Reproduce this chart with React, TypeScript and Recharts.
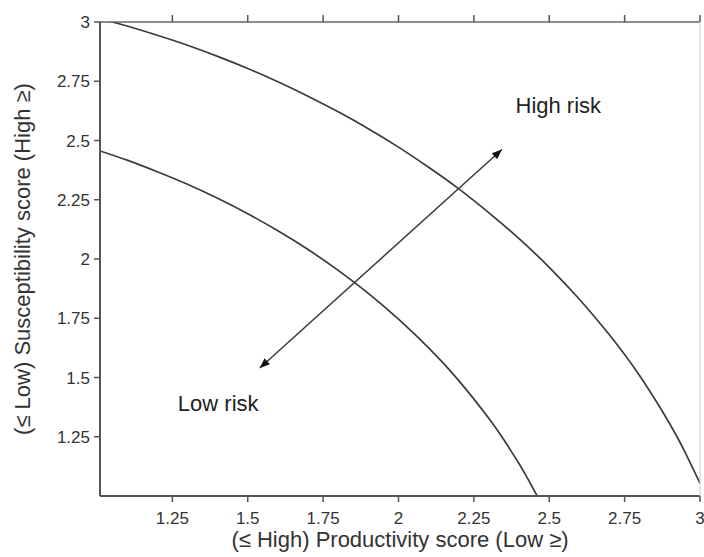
import React from 'react';
import {
  ComposedChart,
  Line,
  XAxis,
  YAxis,
  ReferenceLine,
  ReferenceDot,
  Label,
} from 'recharts';

// Values
const axisTicks = [1.25, 1.5, 1.75, 2, 2.25, 2.5, 2.75, 3];

const outerX = [1.04, 1.1, 1.2, 1.3, 1.4, 1.5, 1.6, 1.7, 1.8, 1.9, 2.0, 2.1, 2.2, 2.3, 2.4, 2.5, 2.6, 2.7, 2.8, 2.9, 2.95, 3.0];
const outerY = [3.004, 2.983, 2.944, 2.902, 2.855, 2.804, 2.748, 2.687, 2.621, 2.55, 2.472, 2.387, 2.296, 2.195, 2.086, 1.965, 1.83, 1.679, 1.507, 1.304, 1.186, 1.054];

const innerX = [1.01, 1.1, 1.2, 1.3, 1.4, 1.5, 1.6, 1.7, 1.8, 1.9, 2.0, 2.1, 2.2, 2.3, 2.35, 2.4, 2.43, 2.46];
const innerY = [2.456, 2.417, 2.368, 2.315, 2.256, 2.191, 2.119, 2.04, 1.952, 1.855, 1.746, 1.625, 1.487, 1.327, 1.236, 1.136, 1.07, 1.0];

// double-headed arrow (low risk -> high risk)
const arrowLow = { x: 1.54, y: 1.54 };
const arrowHigh = { x: 2.343, y: 2.462 };

const riskLabels = [
  { text: 'High risk', x: 2.53, y: 2.65 },
  { text: 'Low risk', x: 1.402, y: 1.39 },
];

const outerData = outerX.map((x, i) => ({ x, y: outerY[i] }));
const innerData = innerX.map((x, i) => ({ x, y: innerY[i] }));

const FONT = '"Liberation Sans", Arial, sans-serif';
const INK = '#3b3b3b';
const TEXT = '#333';
const AXIS = '#555';

const BottomTick = (props: any) => {
  const { x, y, payload } = props;
  return (
    <g>
      <line x1={x} y1={y} x2={x} y2={y + 6} stroke={AXIS} strokeWidth={1.5} />
      <text x={x} y={y + 16} dy="0.71em" textAnchor="middle" fontSize={17} fill={TEXT} fontFamily={FONT}>
        {payload.value}
      </text>
    </g>
  );
};

const LeftTick = (props: any) => {
  const { x, y, payload } = props;
  return (
    <g>
      <line x1={x - 6} y1={y} x2={x} y2={y} stroke={AXIS} strokeWidth={1.5} />
      <text x={x - 10} y={y} dy="0.36em" textAnchor="end" fontSize={17} fill={TEXT} fontFamily={FONT}>
        {payload.value}
      </text>
    </g>
  );
};

const TopTick = (props: any) => {
  const { x, y } = props;
  return <line x1={x} y1={y - 7} x2={x} y2={y} stroke={AXIS} strokeWidth={1.5} />;
};

const arrowHead = (tipX: number, tipY: number, fromX: number, fromY: number) => {
  const len = 10;
  const half = 4;
  const dx = tipX - fromX;
  const dy = tipY - fromY;
  const d = Math.sqrt(dx * dx + dy * dy) || 1;
  const ux = dx / d;
  const uy = dy / d;
  const bx = tipX - ux * len;
  const by = tipY - uy * len;
  return `${tipX},${tipY} ${bx - uy * half},${by + ux * half} ${bx + uy * half},${by - ux * half}`;
};

const ArrowShape = (props: any) => {
  const { x1, y1, x2, y2 } = props;
  return (
    <g>
      <line x1={x1} y1={y1} x2={x2} y2={y2} stroke={INK} strokeWidth={1.5} />
      <polygon points={arrowHead(x1, y1, x2, y2)} fill="#111" />
      <polygon points={arrowHead(x2, y2, x1, y1)} fill="#111" />
    </g>
  );
};

export default function App() {
  return (
    <div style={{ position: 'absolute', left: 0, top: 0, background: '#fff' }}>
      <ComposedChart
        width={704}
        height={557}
        margin={{ top: 21, right: 3, bottom: 0, left: 0 }}
        style={{ fontFamily: FONT }}
      >
        <XAxis
          dataKey="x"
          type="number"
          domain={[1.01, 3]}
          allowDataOverflow
          ticks={axisTicks}
          height={61}
          stroke={AXIS}
          tickSize={0}
          tickMargin={0}
          tick={<BottomTick />}
          axisLine={{ strokeWidth: 2 }}
        >
          <Label
            value="(≤ High) Productivity score (Low ≥)"
            position="insideBottom"
            offset={10}
            style={{ fontSize: 22, fill: TEXT, fontFamily: FONT }}
          />
        </XAxis>
        <XAxis
          xAxisId="top"
          dataKey="x"
          orientation="top"
          type="number"
          domain={[1.01, 3]}
          allowDataOverflow
          ticks={axisTicks}
          height={1}
          stroke="#666"
          tickSize={0}
          tickMargin={0}
          tick={<TopTick />}
          axisLine={{ strokeWidth: 1.5 }}
        />
        <YAxis
          type="number"
          domain={[1, 3]}
          allowDataOverflow
          ticks={axisTicks}
          width={100}
          stroke={AXIS}
          tickSize={0}
          tickMargin={0}
          tick={<LeftTick />}
          axisLine={{ strokeWidth: 2 }}
        >
          <Label
            value="(≤ Low) Susceptibility score (High ≥)"
            angle={-90}
            position="insideLeft"
            offset={22}
            style={{ fontSize: 22, fill: TEXT, fontFamily: FONT, textAnchor: 'middle' }}
          />
        </YAxis>
        <YAxis
          yAxisId="right"
          orientation="right"
          type="number"
          domain={[1, 3]}
          allowDataOverflow
          width={1}
          stroke="#c8c8c8"
          tick={false}
          tickLine={false}
        />

        <Line
          data={outerData}
          dataKey="y"
          type="natural"
          stroke={INK}
          strokeWidth={1.7}
          dot={false}
          activeDot={false}
          isAnimationActive={false}
        />
        <Line
          data={innerData}
          dataKey="y"
          type="natural"
          stroke={INK}
          strokeWidth={1.7}
          dot={false}
          activeDot={false}
          isAnimationActive={false}
        />
        {/* hidden copy so the top and right frame axes are drawn */}
        <Line
          data={outerData}
          dataKey="y"
          xAxisId="top"
          yAxisId="right"
          stroke="none"
          dot={false}
          activeDot={false}
          isAnimationActive={false}
        />

        <ReferenceLine
          segment={[arrowLow, arrowHigh]}
          shape={ArrowShape}
          ifOverflow="visible"
        />

        {riskLabels.map((l) => (
          <ReferenceDot
            key={l.text}
            x={l.x}
            y={l.y}
            r={0}
            fill="none"
            stroke="none"
            ifOverflow="visible"
            label={{
              value: l.text,
              position: 'center',
              fontSize: 22,
              fill: '#222',
              fontFamily: FONT,
            }}
          />
        ))}
      </ComposedChart>
    </div>
  );
}
